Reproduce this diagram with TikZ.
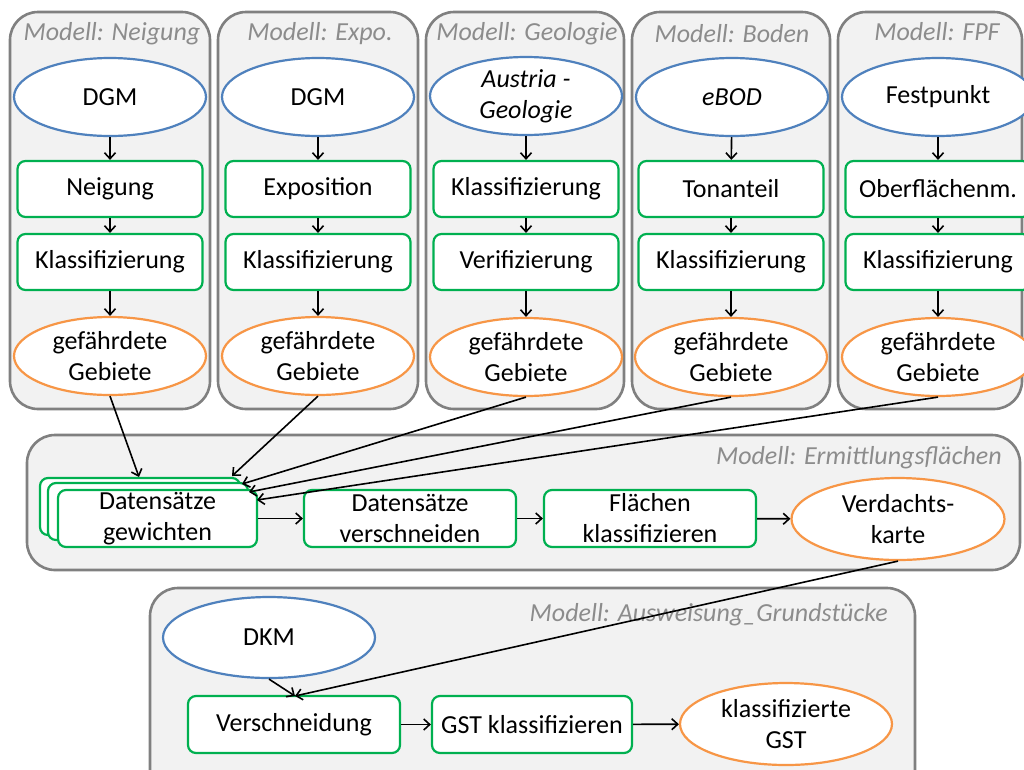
\documentclass[tikz,border=0pt]{standalone}
\usepackage{fontspec}
\setmainfont{Carlito}
\usetikzlibrary{shapes.geometric,arrows.meta}
\definecolor{pgray}{HTML}{808080}
\definecolor{pfill}{HTML}{F2F2F2}
\definecolor{tgray}{HTML}{8C8C8C}
\definecolor{iblue}{HTML}{4F81BD}
\definecolor{pgreen}{HTML}{00B050}
\definecolor{oorange}{HTML}{F79646}
\begin{document}
\begin{tikzpicture}[x=1pt,y=-1pt,
  every node/.style={font=\fontsize{26}{31}\selectfont, align=center, inner sep=0pt},
  panel/.style={draw=pgray, line width=2.6pt, fill=pfill, rounded corners=28pt},
  ptitle/.style={text=tgray, font=\fontsize{26}{31}\selectfont\itshape},
  inp/.style={ellipse, draw=iblue, line width=2.2pt, fill=white, minimum width=192pt, minimum height=78pt},
  outp/.style={ellipse, draw=oorange, line width=2.2pt, fill=white, minimum width=192pt, minimum height=78pt},
  proc/.style={draw=pgreen, line width=2.2pt, fill=white, rounded corners=8pt, minimum width=185pt, minimum height=56pt},
  arr/.style={-{Straight Barb[length=6pt,width=11pt,line width=1.6pt]}, line width=1.6pt, black}]
\useasboundingbox (0,0) rectangle (1024,769);
\fill[white] (0,0) rectangle (1024,769);
% top panels
\foreach \n/\xa/\xb in {1/10/210, 2/218/418, 3/426/624, 4/632/830, 5/838/1022}{
  \draw[panel] (\xa,12) rectangle (\xb,409);
}
\node[ptitle] (t1) at (112,34) {Modell: Neigung};
\node[ptitle] (t2) at (320,34) {Modell: Expo.};
\node[ptitle] (t3) at (527,34) {Modell: Geologie};
\node[ptitle] (t4) at (732,34) {Modell: Boden};
\node[ptitle] (t5) at (937,32) {Modell: FPF};
% inputs
\node[inp] (i1) at (110,97) {DGM};
\node[inp] (i2) at (318,97) {DGM};
\node[inp] (i3) at (526,96) {\itshape Austria -\\\itshape Geologie};
\node[inp] (i4) at (732,97) {\itshape eBOD};
\node[inp] (i5) at (938,97) {Festpunkt};
% row 1
\node[proc] (a1) at (110,189) {Neigung};
\node[proc] (a2) at (318,189) {Exposition};
\node[proc] (a3) at (526,189) {Klassifizierung};
\node[proc] (a4) at (731,189) {Tonanteil};
\node[proc] (a5) at (938,189) {Oberflächenm.};
% row 2
\node[proc] (b1) at (110,262) {Klassifizierung};
\node[proc] (b2) at (318,262) {Klassifizierung};
\node[proc] (b3) at (526,262) {Verifizierung};
\node[proc] (b4) at (731,262) {Klassifizierung};
\node[proc] (b5) at (938,262) {Klassifizierung};
% outputs
\node[outp] (o1) at (110,356) {gefährdete\\Gebiete};
\node[outp] (o2) at (318,356) {gefährdete\\Gebiete};
\node[outp] (o3) at (526,357) {gefährdete\\Gebiete};
\node[outp] (o4) at (731,357) {gefährdete\\Gebiete};
\node[outp] (o5) at (938,357) {gefährdete\\Gebiete};
\foreach \k in {1,...,5}{
  \draw[arr] (i\k) -- (a\k);
  \draw[arr] (a\k) -- (b\k);
  \draw[arr] (b\k) -- (o\k);
}
% middle panel
\draw[panel] (27,435) rectangle (1020,570);
\node[ptitle, anchor=east] (tm) at (1002,458) {Modell: Ermittlungsflächen};
\node[proc, minimum width=200pt, minimum height=57pt] (dA) at (140,506.5) {};
\node[proc, minimum width=200pt, minimum height=57pt] (dB) at (148,511.5) {};
\node[proc, minimum width=199pt, minimum height=57pt] (dC) at (157.5,518.5) {Datensätze\\gewichten};
\node[proc, minimum width=212pt, minimum height=57pt] (vs) at (410,518.5) {Datensätze\\verschneiden};
\node[proc, minimum width=212pt, minimum height=57pt] (fk) at (650,518.5) {Flächen\\klassifizieren};
\node[outp, minimum width=213pt, minimum height=82pt] (vk) at (898,519) {Verdachts-\\karte};
\draw[arr] (dC) -- (vs);
\draw[arr] (vs) -- (fk);
\draw[arr] (fk) -- (vk);
% bottom panel
\draw[panel] (150,588) rectangle (915,800);
\node[ptitle, anchor=east] (tb) at (888,615) {Modell: Ausweisung\_Grundstücke};
\node[inp, minimum width=212pt, minimum height=81pt] (dkm) at (269,637.5) {DKM};
\node[proc, minimum width=212pt, minimum height=57pt] (ver) at (294,724.5) {Verschneidung};
\node[proc, minimum width=200pt, minimum height=57pt] (gst) at (532,724.5) {GST klassifizieren};
\node[outp, minimum width=212pt, minimum height=82pt] (kg) at (786,724) {klassifizierte\\GST};
\draw[arr] (ver) -- (gst);
\draw[arr] (gst) -- (kg);
% connectors between panels
\coordinate (e1) at (139,477);
\coordinate (e2) at (232,476);
\coordinate (e3) at (242,484);
\coordinate (e4) at (249,492);
\coordinate (e5) at (257,500);
\draw[arr] (o1.south) -- (e1);
\draw[arr] (o2.south) -- (e2);
\draw[arr] (o3.south) -- (e3);
\draw[arr] (o4.south) -- (e4);
\draw[arr] (o5.south) -- (e5);
\coordinate (ev) at (295,696);
\draw[arr] (vk.south) -- (ev);
\draw[arr] (dkm.south) -- (ev);
\end{tikzpicture}
\end{document}
